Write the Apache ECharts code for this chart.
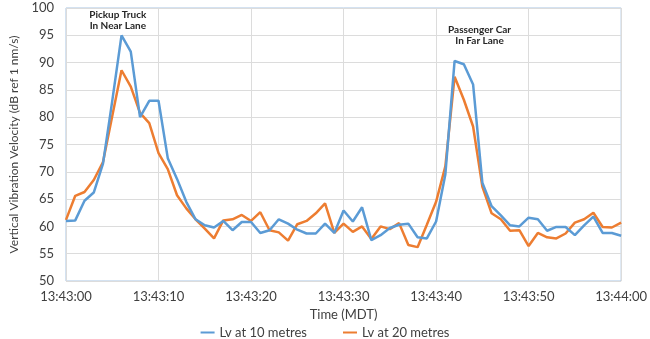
<!DOCTYPE html>
<html>
<head>
<meta charset="utf-8">
<script src="https://cdn.jsdelivr.net/npm/echarts@6/dist/echarts.min.js"></script>
<style>html,body{margin:0;padding:0;background:#fff}#c{width:650px;height:339px}</style>
</head>
<body>
<div id="c"></div>
<script>
// seconds after 13:43:00
var seconds = [0,1,2,3,4,5,6,7,8,9,10,11,12,13,14,15,16,17,18,19,20,21,22,23,24,25,26,27,28,29,30,31,32,33,34,35,36,37,38,39,40,41,42,43,44,45,46,47,48,49,50,51,52,53,54,55,56,57,58,59,60];
var lv10 = [61.0,61.1,64.7,66.2,71.5,83.0,95.0,92.0,80.0,83.0,83.0,72.5,68.7,64.5,61.3,60.2,59.8,61.0,59.3,60.8,60.8,58.8,59.3,61.3,60.5,59.4,58.7,58.7,60.5,58.8,62.9,60.9,63.5,57.5,58.4,59.7,60.3,60.5,58.0,57.8,60.9,69.5,90.3,89.7,86.0,68.0,63.7,62.0,60.2,60.0,61.6,61.3,59.2,59.9,59.9,58.4,60.2,61.8,58.8,58.8,58.3];
var lv20 = [61.2,65.6,66.3,68.5,71.8,80.2,88.6,85.6,80.8,78.9,73.4,70.5,65.7,63.3,61.3,59.6,57.8,61.1,61.3,62.1,61.0,62.6,59.3,58.9,57.4,60.4,61.0,62.4,64.2,58.8,60.5,59.0,60.0,57.7,60.0,59.5,60.6,56.6,56.2,60.3,64.5,71.0,87.4,83.2,78.3,67.3,62.4,61.3,59.2,59.3,56.4,58.8,58.0,57.8,58.7,60.7,61.3,62.5,59.9,59.8,60.7];
var xTickLabels = ['13:43:00','13:43:10','13:43:20','13:43:30','13:43:40','13:43:50','13:44:00'];
var seriesNames = ['Lv at 10 metres','Lv at 20 metres'];
var annotations = [
  {text:'Pickup Truck\nIn Near Lane', at:[5.6, 97.8]},
  {text:'Passenger Car\nIn Far Lane', at:[44.7, 95.0]}
];

function pairs(xs, ys){ return xs.map(function(x,i){ return [x, ys[i]]; }); }

var FONT = 'Lato, "Open Sans", sans-serif';
var chart = echarts.init(document.getElementById('c'), null, {renderer:'canvas'});
chart.setOption({
  animation:false,
  textStyle:{fontFamily:FONT},
  grid:{left:64, right:26, top:8, bottom:58, show:true, borderColor:'#a8c4e2', borderWidth:1},
  legend:{
    top:321, left:'center', itemGap:36, itemWidth:14, itemHeight:2, icon:'rect',
    textStyle:{fontSize:13, color:'#404040', fontFamily:FONT},
    data:seriesNames
  },
  xAxis:{
    type:'value', min:0, max:60, interval:10,
    name:'Time (MDT)', nameLocation:'middle', nameGap:26,
    nameTextStyle:{fontSize:13, color:'#404040', fontFamily:FONT},
    axisLine:{show:false}, axisTick:{show:false},
    axisLabel:{fontSize:13, color:'#404040', margin:9, fontFamily:FONT,
      formatter:function(v){ return xTickLabels[Math.round(v/10)]; }},
    splitLine:{show:true, lineStyle:{color:'#dcdcdc', width:1}}
  },
  yAxis:{
    type:'value', min:50, max:100, interval:5,
    name:'Vertical Vibration Velocity (dB ref 1 nm/s)', nameLocation:'middle', nameGap:46, nameRotate:90,
    nameTextStyle:{fontSize:12, color:'#404040', fontFamily:FONT},
    axisLine:{show:false}, axisTick:{show:false},
    axisLabel:{fontSize:13, color:'#404040', margin:12, fontFamily:FONT},
    splitLine:{show:true, lineStyle:{color:'#dcdcdc', width:1}}
  },
  series:[
    {name:seriesNames[0], type:'line', data:pairs(seconds, lv10), symbol:'none',
     lineStyle:{color:'#5b9bd5', width:2.5}, itemStyle:{color:'#5b9bd5'}, z:3,
     markPoint:{symbol:'circle', symbolSize:0, silent:true,
       label:{show:true, position:'inside', color:'#262626', fontSize:10, fontWeight:'bold', lineHeight:11, fontFamily:FONT,
         formatter:function(p){ return p.name; }},
       data:annotations.map(function(a){ return {name:a.text, coord:a.at}; })}
    },
    {name:seriesNames[1], type:'line', data:pairs(seconds, lv20), symbol:'none',
     lineStyle:{color:'#ed7d31', width:2.5}, itemStyle:{color:'#ed7d31'}, z:2}
  ]
});
</script>
</body>
</html>
